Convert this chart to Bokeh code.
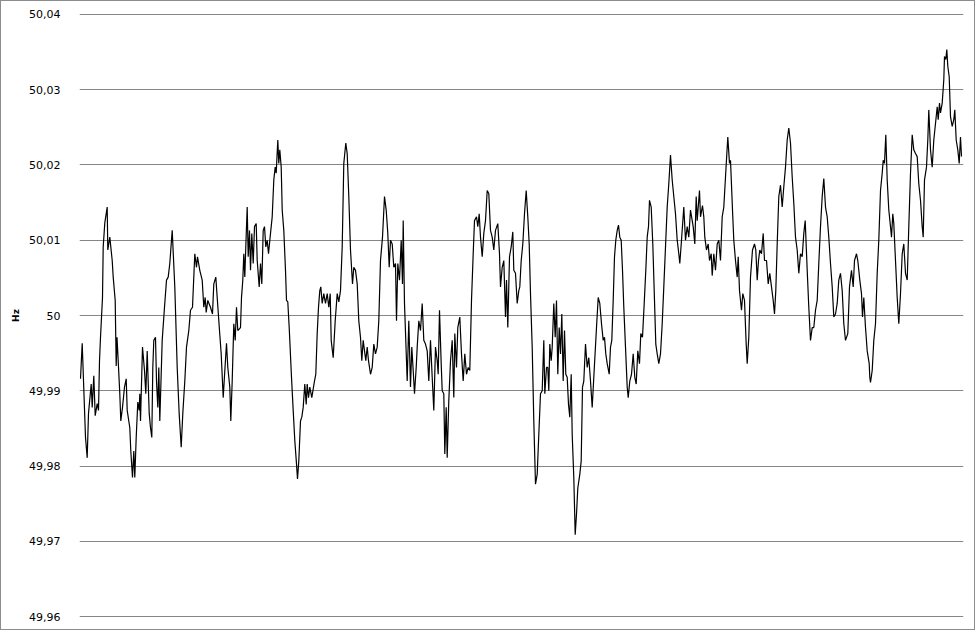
from bokeh.plotting import figure
from bokeh.models import Range1d, FixedTicker, CustomJSTickFormatter, ColumnDataSource
from bokeh.embed import file_html
from bokeh.resources import INLINE

# (sample position, frequency in Hz)
readings = [
(0.0,49.9916),(1.7,49.9963),(5.0,49.9838),(6.7,49.9811),(8.0,49.9870),(10.7,49.9909),(11.7,49.9878),(13.3,49.9920),(14.7,49.9867),(16.7,49.9883),(18.0,49.9874),(19.0,49.9940),(20.0,49.9971),(22.0,50.0024),(22.7,50.0091),(24.3,50.0123),(26.7,50.0144),(27.3,50.0087),(29.3,50.0104),(31.7,50.0073),(32.7,50.0051),(34.7,50.0020),(35.7,49.9933),(36.5,49.9971),(37.7,49.9940),(39.3,49.9896),(40.3,49.9860),(42.0,49.9878),(44.0,49.9905),(45.7,49.9916),(46.7,49.9874),(49.3,49.9851),(50.3,49.9820),(52.0,49.9785),(53.3,49.9820),(54.3,49.9785),(55.7,49.9838),(57.3,49.9885),(58.7,49.9874),(59.3,49.9896),(60.0,49.9860),(62.0,49.9958),(64.0,49.9927),(65.3,49.9896),(66.7,49.9953),(68.7,49.9870),(70.0,49.9851),(71.3,49.9838),(72.3,49.9931),(73.3,49.9967),(75.0,49.9971),(76.0,49.9913),(77.3,49.9878),(78.3,49.9931),(79.3,49.9860),(81.7,49.9967),(84.0,50.0011),(86.0,50.0047),(87.7,50.0051),(89.3,50.0069),(91.7,50.0113),(94.3,50.0038),(96.7,49.9931),(98.7,49.9869),(100.7,49.9825),(102.3,49.9870),(104.3,49.9913),(106.0,49.9958),(108.3,49.9980),(110.0,50.0007),(112.0,50.0011),(114.3,50.0082),(116.0,50.0064),(117.0,50.0078),(119.3,50.0060),(121.7,50.0047),(123.3,50.0011),(124.7,50.0024),(125.7,50.0004),(127.3,50.0020),(130.0,50.0011),(132.0,50.0002),(133.3,50.0042),(135.3,50.0051),(136.7,50.0024),(139.0,49.9980),(140.7,49.9949),(142.7,49.9891),(143.7,49.9913),(146.0,49.9963),(147.3,49.9931),(149.3,49.9905),(150.3,49.9860),(151.7,49.9913),(153.3,49.9989),(154.7,49.9967),(156.0,50.0011),(157.3,49.9980),(160.0,49.9984),(161.0,50.0024),(162.3,50.0047),(163.3,50.0082),(164.3,50.0051),(165.3,50.0091),(166.7,50.0144),(167.7,50.0078),(169.0,50.0113),(170.0,50.0060),(171.3,50.0109),(172.7,50.0069),(174.0,50.0118),(175.7,50.0122),(176.7,50.0073),(178.7,50.0038),(180.0,50.0069),(181.3,50.0042),(182.7,50.0113),(184.0,50.0118),(185.3,50.0091),(186.7,50.0100),(188.0,50.0082),(190.0,50.0109),(191.7,50.0131),(193.3,50.0180),(194.7,50.0197),(195.7,50.0189),(197.3,50.0233),(198.3,50.0202),(199.3,50.0220),(200.7,50.0197),(201.7,50.0140),(203.3,50.0113),(205.0,50.0060),(206.0,50.0020),(207.3,50.0018),(208.7,49.9984),(209.3,49.9967),(211.0,49.9918),(212.7,49.9874),(214.3,49.9834),(216.0,49.9803),(217.0,49.9783),(218.3,49.9807),(220.0,49.9860),(221.3,49.9865),(222.7,49.9878),(224.3,49.9909),(225.7,49.9882),(226.7,49.9909),(228.0,49.9891),(229.3,49.9905),(231.3,49.9891),(234.0,49.9913),(235.3,49.9922),(236.7,49.9976),(238.0,50.0011),(239.3,50.0033),(240.3,50.0038),(241.7,50.0016),(243.3,50.0029),(245.0,50.0016),(246.7,50.0029),(248.3,50.0011),(249.7,50.0029),(250.7,49.9967),(252.7,49.9944),(254.7,49.9993),(256.7,50.0029),(258.3,50.0018),(260.0,50.0033),(261.7,50.0091),(263.3,50.0202),(265.3,50.0229),(266.7,50.0215),(268.3,50.0158),(270.0,50.0087),(272.0,50.0042),(273.3,50.0064),(275.0,50.0060),(276.7,50.0042),(278.3,49.9993),(280.0,49.9971),(281.3,49.9940),(282.7,49.9967),(284.0,49.9953),(285.3,49.9940),(286.7,49.9958),(288.0,49.9940),(290.0,49.9922),(291.7,49.9931),(293.3,49.9962),(295.0,49.9949),(296.7,49.9958),(298.3,49.9993),(300.0,50.0073),(302.0,50.0104),(304.0,50.0158),(305.7,50.0140),(307.3,50.0109),(308.7,50.0064),(310.0,50.0100),(311.7,50.0095),(313.3,50.0064),(315.0,50.0069),(316.0,49.9993),(317.3,50.0069),(319.0,50.0047),(320.7,50.0100),(322.0,50.0042),(322.7,50.0126),(324.0,50.0016),(326.7,49.9913),(328.3,49.9993),(330.0,49.9905),(331.3,49.9958),(332.7,49.9927),(334.0,49.9896),(335.7,49.9931),(336.7,49.9958),(338.3,49.9993),(340.0,49.9980),(341.7,50.0016),(343.3,49.9967),(345.0,49.9962),(346.7,49.9953),(348.3,49.9913),(350.0,49.9967),(351.7,49.9918),(353.3,49.9874),(355.0,49.9958),(356.7,49.9940),(357.7,49.9922),(359.0,50.0007),(360.7,49.9936),(361.7,49.9900),(363.3,49.9896),(364.3,49.9816),(365.7,49.9878),(366.7,49.9811),(368.3,49.9887),(370.0,49.9940),(371.7,49.9967),(373.3,49.9891),(374.3,49.9976),(376.0,49.9931),(377.3,49.9984),(379.3,49.9998),(381.0,49.9949),(382.7,49.9913),(384.3,49.9949),(386.0,49.9922),(387.7,49.9931),(389.3,49.9927),(391.0,50.0020),(392.7,50.0082),(394.0,50.0126),(396.0,50.0131),(397.3,50.0118),(398.7,50.0135),(400.0,50.0104),(401.7,50.0078),(403.3,50.0109),(405.0,50.0126),(406.7,50.0166),(408.3,50.0162),(410.0,50.0113),(411.7,50.0104),(413.3,50.0087),(415.0,50.0113),(417.3,50.0122),(419.0,50.0082),(420.0,50.0038),(421.7,50.0064),(423.3,50.0073),(425.0,49.9998),(426.0,50.0047),(427.3,49.9984),(429.0,50.0078),(430.7,50.0091),(432.3,50.0111),(433.3,50.0060),(435.0,50.0056),(436.7,50.0016),(438.3,50.0033),(439.3,50.0038),(440.7,50.0073),(442.3,50.0095),(444.0,50.0135),(445.7,50.0166),(447.3,50.0131),(448.7,50.0095),(450.0,50.0029),(451.7,49.9958),(453.3,49.9860),(455.0,49.9776),(456.7,49.9789),(458.3,49.9842),(460.0,49.9896),(461.7,49.9900),(463.3,49.9967),(464.3,49.9896),(466.0,49.9931),(467.3,49.9931),(468.3,49.9900),(469.3,49.9962),(470.7,49.9940),(471.7,49.9958),(473.3,50.0016),(474.7,49.9971),(476.0,50.0020),(477.3,49.9922),(478.7,49.9984),(480.0,49.9949),(481.3,50.0002),(482.7,49.9913),(484.0,49.9980),(485.3,49.9922),(486.7,49.9918),(488.0,49.9882),(489.3,49.9865),(490.7,49.9922),(491.7,49.9842),(493.3,49.9785),(494.7,49.9709),(496.0,49.9736),(497.3,49.9771),(499.3,49.9789),(500.7,49.9807),(502.0,49.9905),(503.3,49.9913),(505.0,49.9962),(506.7,49.9931),(508.3,49.9944),(510.0,49.9913),(511.7,49.9878),(513.3,49.9918),(516.0,49.9984),(517.7,50.0024),(519.3,50.0016),(521.0,49.9989),(522.7,49.9967),(524.0,49.9971),(525.3,49.9949),(526.7,49.9936),(528.7,49.9922),(530.0,49.9958),(531.3,49.9967),(532.7,50.0020),(534.0,50.0078),(535.3,50.0100),(536.7,50.0113),(538.0,50.0120),(539.3,50.0104),(540.7,50.0100),(542.0,50.0060),(543.3,50.0011),(545.0,49.9958),(546.7,49.9905),(547.7,49.9891),(549.3,49.9913),(551.0,49.9922),(552.7,49.9949),(554.3,49.9918),(555.7,49.9909),(557.3,49.9953),(559.0,49.9936),(560.3,49.9976),(562.0,49.9971),(563.7,50.0016),(565.3,50.0060),(566.7,50.0104),(568.0,50.0118),(569.0,50.0153),(570.7,50.0144),(572.3,50.0095),(574.0,50.0020),(575.3,49.9962),(576.7,49.9949),(578.3,49.9936),(580.0,49.9949),(581.7,49.9989),(583.3,50.0038),(585.0,50.0091),(586.7,50.0144),(588.3,50.0175),(590.0,50.0213),(591.7,50.0180),(593.3,50.0158),(595.0,50.0135),(596.7,50.0100),(598.3,50.0082),(599.3,50.0069),(601.0,50.0100),(603.3,50.0144),(605.0,50.0100),(606.7,50.0118),(608.3,50.0104),(610.0,50.0140),(612.7,50.0118),(614.3,50.0095),(615.7,50.0158),(616.7,50.0126),(619.0,50.0166),(620.0,50.0131),(622.0,50.0146),(623.3,50.0131),(624.3,50.0104),(626.0,50.0087),(627.7,50.0095),(629.0,50.0073),(630.7,50.0082),(631.7,50.0053),(633.3,50.0082),(635.0,50.0060),(636.7,50.0095),(638.3,50.0100),(640.0,50.0073),(641.7,50.0131),(643.3,50.0144),(645.0,50.0184),(647.3,50.0237),(649.0,50.0202),(650.0,50.0206),(652.0,50.0140),(653.3,50.0100),(655.0,50.0073),(656.7,50.0051),(657.7,50.0078),(659.0,50.0033),(661.0,50.0007),(662.3,50.0029),(664.0,50.0020),(665.7,49.9962),(666.7,49.9936),(668.3,49.9971),(670.0,50.0051),(672.0,50.0087),(674.0,50.0095),(675.3,50.0087),(676.7,50.0047),(678.0,50.0073),(679.3,50.0087),(681.0,50.0082),(682.7,50.0109),(684.0,50.0073),(686.0,50.0073),(687.7,50.0042),(689.3,50.0056),(691.0,50.0038),(692.7,50.0020),(694.0,50.0002),(695.3,50.0033),(696.7,50.0095),(698.3,50.0158),(700.0,50.0173),(701.7,50.0144),(703.3,50.0171),(705.0,50.0197),(706.7,50.0233),(708.3,50.0249),(710.0,50.0229),(711.7,50.0184),(713.3,50.0149),(715.0,50.0104),(716.7,50.0087),(718.3,50.0056),(720.0,50.0082),(721.7,50.0078),(723.3,50.0109),(724.7,50.0126),(726.7,50.0060),(728.3,50.0011),(730.0,49.9967),(731.7,49.9984),(733.3,49.9984),(735.0,50.0007),(736.7,50.0020),(738.3,50.0069),(740.0,50.0118),(741.7,50.0158),(743.3,50.0182),(745.0,50.0144),(746.7,50.0131),(748.3,50.0104),(750.0,50.0069),(751.7,50.0038),(753.3,49.9998),(755.0,50.0002),(756.7,50.0016),(758.3,50.0047),(760.0,50.0056),(761.7,50.0033),(763.3,49.9989),(765.0,49.9967),(767.3,49.9976),(769.0,50.0038),(771.0,50.0060),(772.7,50.0038),(774.0,50.0073),(776.0,50.0082),(777.3,50.0073),(779.3,50.0047),(781.0,50.0029),(782.0,49.9998),(783.3,50.0024),(785.0,49.9984),(786.7,49.9953),(788.7,49.9936),(789.3,49.9918),(790.0,49.9911),(791.7,49.9927),(793.3,49.9967),(795.0,49.9989),(796.7,50.0056),(798.3,50.0100),(800.0,50.0166),(801.7,50.0189),(802.7,50.0206),(804.0,50.0202),(805.3,50.0240),(806.7,50.0180),(808.3,50.0140),(810.0,50.0118),(811.0,50.0104),(812.3,50.0135),(813.3,50.0122),(815.0,50.0073),(816.7,50.0024),(818.3,49.9989),(820.0,50.0029),(821.7,50.0082),(823.3,50.0095),(825.0,50.0056),(826.7,50.0047),(828.3,50.0118),(830.0,50.0189),(831.7,50.0240),(833.3,50.0220),(835.0,50.0215),(836.7,50.0211),(838.3,50.0175),(840.0,50.0153),(841.7,50.0118),(842.7,50.0104),(844.0,50.0180),(846.0,50.0197),(847.3,50.0233),(848.3,50.0273),(850.0,50.0220),(851.7,50.0197),(853.3,50.0233),(855.0,50.0255),(856.7,50.0277),(857.7,50.0260),(859.0,50.0282),(860.0,50.0269),(861.7,50.0282),(863.3,50.0313),(864.0,50.0344),(865.3,50.0340),(866.3,50.0353),(867.3,50.0331),(868.7,50.0317),(870.0,50.0264),(871.7,50.0251),(873.3,50.0260),(874.3,50.0273),(875.7,50.0233),(877.3,50.0220),(878.7,50.0202),(880.0,50.0237),(881.0,50.0211),
]

sample = [r[0] for r in readings]
hz = [r[1] for r in readings]

y_ticks = [49.96, 49.97, 49.98, 49.99, 50.00, 50.01, 50.02, 50.03, 50.04]
y_label = "Hz"

src = ColumnDataSource(data=dict(sample=sample, hz=hz))

p = figure(width=975, height=630, output_backend="svg", toolbar_location=None,
           x_range=Range1d(-1.0, 883.0), y_range=Range1d(49.9599, 50.0401),
           min_border_left=78, min_border_right=13, min_border_top=12, min_border_bottom=14)

p.line("sample", "hz", source=src, line_color="#000000", line_width=1.2)

p.xaxis.visible = False
p.xgrid.visible = False
p.ygrid.grid_line_color = "#868686"
p.ygrid.grid_line_width = 1
p.outline_line_color = None
p.background_fill_color = "#ffffff"
p.border_fill_color = "#ffffff"

ax = p.yaxis[0]
ax.ticker = FixedTicker(ticks=y_ticks)
ax.formatter = CustomJSTickFormatter(code="""
    const s = tick.toFixed(2);
    if (s.endsWith('.00')) { return s.slice(0, -3); }
    return s.replace('.', ',');
""")
ax.axis_line_color = None
ax.major_tick_line_color = None
ax.minor_tick_line_color = None
ax.major_label_standoff = 13
ax.major_label_text_font = "DejaVu Sans"
ax.major_label_text_font_size = "11px"
ax.major_label_text_color = "#000000"
ax.axis_label = y_label
ax.axis_label_text_font = "DejaVu Sans"
ax.axis_label_text_font_size = "9px"
ax.axis_label_text_font_style = "bold"
ax.axis_label_text_color = "#000000"
ax.axis_label_standoff = 5

p.styles = {"border": "1px solid #8c8c8c"}

open("out.html", "w").write(file_html(p, INLINE))
